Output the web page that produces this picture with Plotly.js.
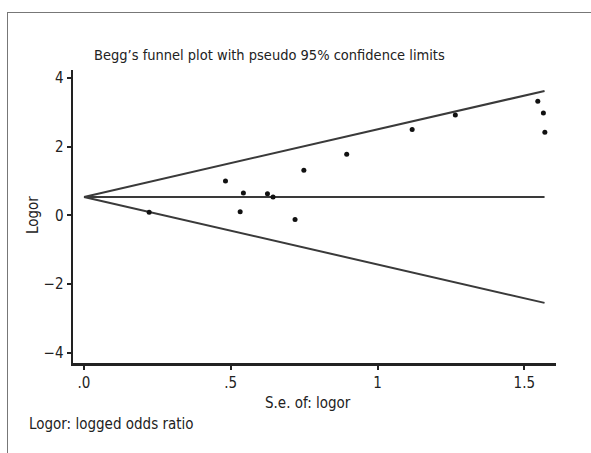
<!DOCTYPE html>
<html>
<head>
<meta charset="utf-8">
<script src="https://cdn.plot.ly/plotly-3.0.1.min.js"></script>
<style>
  html, body { margin: 0; padding: 0; background: #fff; }
  #frame { position: absolute; left: 7px; top: 12px; width: 600px; height: 460px;
           border-left: 1.5px solid #777; border-top: 1.5px solid #777; }
  #chart { position: absolute; left: 0; top: 0; width: 591px; height: 453px; }
</style>
</head>
<body>
<div id="frame"></div>
<div id="chart"></div>
<script>
// Study data: standard error of log odds ratio and log odds ratio
const seLogor = [0.222, 0.482, 0.532, 0.543, 0.625, 0.644, 0.719, 0.749, 0.895, 1.118, 1.265, 1.546, 1.565, 1.570];
const logor   = [0.09, 1.00, 0.10, 0.65, 0.63, 0.53, -0.125, 1.31, 1.78, 2.50, 2.92, 3.32, 2.98, 2.42];

// Funnel (pseudo 95% confidence limits) endpoints
const funnelSe     = [0, 1.569];
const funnelUpper  = [0.535, 3.62];
const funnelLower  = [0.535, -2.55];
const funnelCenter = [0.535, 0.535];

// Tick labels
const xTickVals = [0, 0.5, 1, 1.5];
const xTickText = ['.0', '.5', '1', '1.5'];
const yTickVals = [-4, -2, 0, 2, 4];
const yTickText = ['\u22124', '\u22122', '0', '2', '4'];

const FONT = 'Liberation Sans Narrow, DejaVu Sans Condensed, Arial Narrow, sans-serif';
const lineStyle = { color: '#3a3a3a', width: 2 };

const traces = [
  { x: funnelSe, y: funnelUpper, mode: 'lines', line: lineStyle, hoverinfo: 'skip' },
  { x: funnelSe, y: funnelLower, mode: 'lines', line: lineStyle, hoverinfo: 'skip' },
  { x: funnelSe, y: funnelCenter, mode: 'lines', line: lineStyle, hoverinfo: 'skip' },
  { x: seLogor, y: logor, mode: 'markers', marker: { color: '#111', size: 5 } }
];

const L = 73, R = 35, T = 70, B = 90;
const W = 591, H = 453;
const pw = W - L - R, ph = H - T - B;
const px = v => (v - L) / pw;          // pixel x -> paper x
const py = v => (H - B - v) / ph;      // pixel y -> paper y

const layout = {
  width: W, height: H,
  margin: { l: L, r: R, t: T, b: B, pad: 0 },
  paper_bgcolor: 'rgba(0,0,0,0)',
  plot_bgcolor: 'rgba(0,0,0,0)',
  showlegend: false,
  font: { family: FONT, size: 15, color: '#222' },
  xaxis: {
    range: [-0.0375, 1.608], showgrid: false, zeroline: false,
    showline: true, linecolor: '#222', linewidth: 2.5,
    ticks: 'outside', ticklen: 4, tickwidth: 2, tickcolor: '#222',
    tickvals: xTickVals, ticktext: xTickText,
    tickfont: { family: FONT, size: 15, color: '#222' }
  },
  yaxis: {
    range: [-4.30, 4.23], showgrid: false, zeroline: false,
    showline: true, linecolor: '#222', linewidth: 2.5,
    ticks: 'outside', ticklen: 4, tickwidth: 2, tickcolor: '#222',
    tickvals: yTickVals, ticktext: yTickText,
    tickfont: { family: FONT, size: 15, color: '#222' }
  },
  annotations: [
    { text: 'Begg\u2019s funnel plot with pseudo 95% confidence limits', xref: 'paper', yref: 'paper',
      x: px(92), y: py(55), xanchor: 'left', yanchor: 'middle', showarrow: false,
      font: { family: FONT, size: 14.5, color: '#222' } },
    { text: 'Logor', xref: 'paper', yref: 'paper', x: px(33), y: py(215), textangle: -90,
      xanchor: 'center', yanchor: 'middle', showarrow: false,
      font: { family: FONT, size: 15, color: '#222' } },
    { text: 'S.e. of: logor', xref: 'paper', yref: 'paper', x: px(308), y: py(403),
      xanchor: 'center', yanchor: 'middle', showarrow: false,
      font: { family: FONT, size: 15, color: '#222' } },
    { text: 'Logor: logged odds ratio', xref: 'paper', yref: 'paper', x: px(27), y: py(424),
      xanchor: 'left', yanchor: 'middle', showarrow: false,
      font: { family: FONT, size: 15, color: '#222' } }
  ]
};

Plotly.newPlot('chart', traces, layout, { staticPlot: true, displayModeBar: false });
</script>
</body>
</html>
